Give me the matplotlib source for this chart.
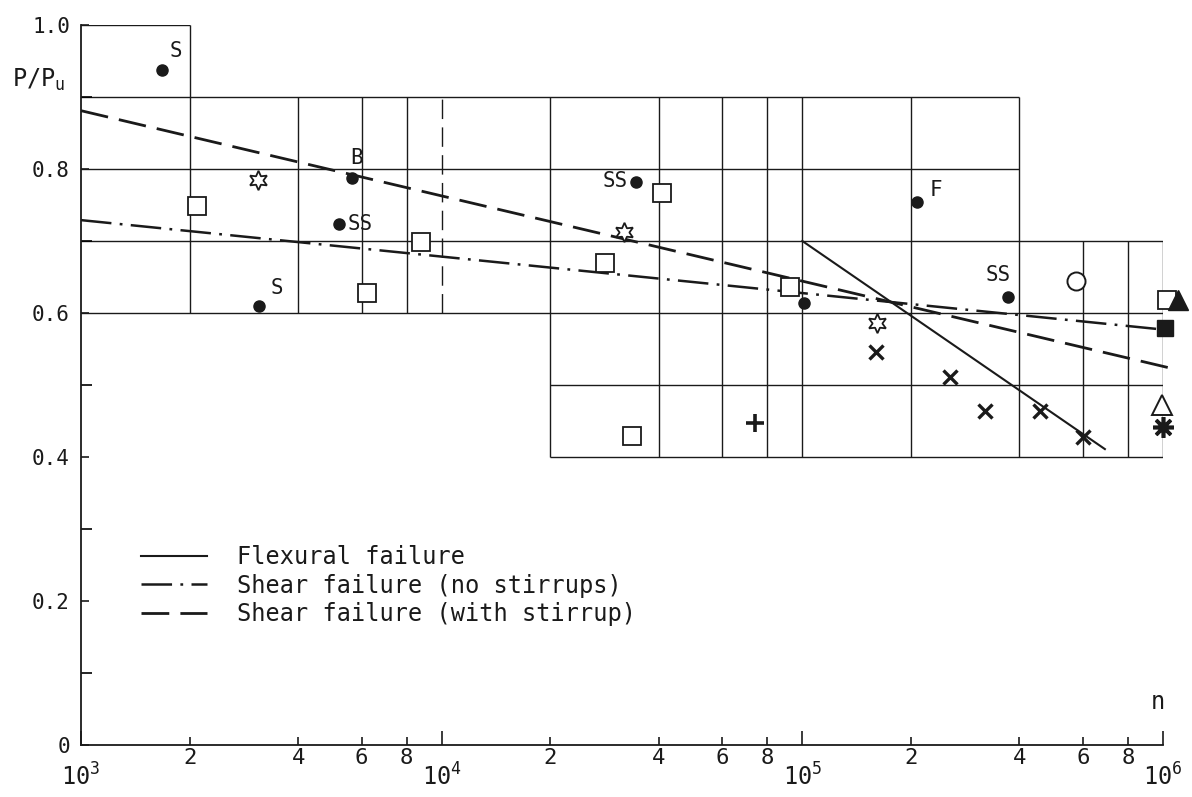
import matplotlib
matplotlib.use("Agg")
import matplotlib.pyplot as plt
from matplotlib.ticker import FixedLocator, NullFormatter, FixedFormatter

FONT = 'DejaVu Sans Mono'
plt.rcParams['font.family'] = [FONT, 'DejaVu Sans']
plt.rcParams['mathtext.fontset'] = 'custom'
plt.rcParams['mathtext.rm'] = FONT
plt.rcParams['lines.scale_dashes'] = False

# ---------------- data ----------------
# filled circles with failure-type labels
circle_n = [1677, 5641, 5192, 3115, 34580, 101000, 208000, 372000]
circle_p = [0.937, 0.787, 0.724, 0.610, 0.782, 0.614, 0.754, 0.622]
circle_lbl = ['S', 'B', 'SS', 'S', 'SS', '', 'F', 'SS']

square_n = [2097, 6209, 8766, 28370, 40830, 92400, 33710, 1026000]
square_p = [0.749, 0.628, 0.699, 0.669, 0.767, 0.636, 0.429, 0.618]

hex_n = [3095, 32030, 161000]
hex_p = [0.785, 0.7125, 0.586]

cross_n = [160000, 257000, 321000, 456000, 600000]
cross_p = [0.546, 0.511, 0.464, 0.464, 0.428]

plus_n = [73900]
plus_p = [0.447]

ocircle_n = [574000]
ocircle_p = [0.644]

fsquare_n = [1013000]
fsquare_p = [0.579]

ftri_n = [1100000]
ftri_p = [0.618]

otri_n = [993000]
otri_p = [0.472]

ast_n = [1000000]
ast_p = [0.442]

# fitted lines
flex_n = [1.0e5, 6.9e5]
flex_p = [0.700, 0.411]
shear_no_n = [1e3, 1e6]
shear_no_p = [0.729, 0.577]
shear_st_n = [1e3, 1.1e6]
shear_st_p = [0.881, 0.521]

legend_labels = ['Flexural failure', 'Shear failure (no stirrups)',
                 'Shear failure (with stirrup)']

# box structure of the diagram
h_segments = [(1.0, 1e3, 2e3), (0.9, 1e3, 4e5), (0.8, 1e3, 4e5),
              (0.7, 1e3, 1e6), (0.6, 1e3, 1e6), (0.5, 2e4, 1e6), (0.4, 2e4, 1e6)]
v_segments = [(2e3, 0.6, 1.0), (4e3, 0.6, 0.9), (6e3, 0.6, 0.9), (8e3, 0.6, 0.9),
              (2e4, 0.4, 0.9), (4e4, 0.4, 0.9), (6e4, 0.4, 0.9), (8e4, 0.4, 0.9),
              (1e5, 0.4, 0.9), (2e5, 0.4, 0.9), (4e5, 0.4, 0.9),
              (6e5, 0.4, 0.7), (8e5, 0.4, 0.7), (1e6, 0.4, 0.7)]
v_broken = [(1e4, 0.6, 0.9)]

x_major = [1e3, 1e4, 1e5, 1e6]
x_major_lbl = ['$10^3$', '$10^4$', '$10^5$', '$10^6$']
x_minor = [m * d for d in (1e3, 1e4, 1e5) for m in (2, 4, 6, 8)]
x_minor_lbl = ['2', '4', '6', '8'] * 3
y_major = [0, 0.2, 0.4, 0.6, 0.8, 1.0]
y_major_lbl = ['0', '0.2', '0.4', '0.6', '0.8', '1.0']
y_minor = [0.1, 0.3, 0.5, 0.7, 0.9]

# label offsets (points) and alignment for circle labels
lbl_off = [(10, 14), (3, 15), (6, 0), (13, 13), (-6, 1), (0, 0), (9, 9), (-7, 16)]
lbl_ha = ['center', 'center', 'left', 'center', 'right', 'center', 'left', 'center']

# ---------------- figure ----------------
K = '#1a1a1a'
fig = plt.figure(figsize=(11.92, 7.97), dpi=100)
ax = fig.add_axes([81 / 1192, 52 / 797, 1082 / 1192, 720 / 797])
ax.set_xscale('log')
ax.set_xlim(1e3, 1e6)
ax.set_ylim(0, 1.0)

for y, a, b in h_segments:
    ax.hlines(y, a, b, color=K, lw=1.0, zorder=1)
for x, a, b in v_segments:
    ax.vlines(x, a, b, color=K, lw=1.0, zorder=1)
for x, a, b in v_broken:
    ax.vlines(x, a, b, color=K, lw=1.0, zorder=1, linestyles=(0, (14, 6)))

l1, = ax.plot(flex_n, flex_p, color=K, lw=1.5, zorder=2)
l2, = ax.plot(shear_no_n, shear_no_p, color=K, lw=1.8, zorder=2,
              dashes=(22, 6, 2, 6))
l3, = ax.plot(shear_st_n, shear_st_p, color=K, lw=2.0, zorder=2,
              dashes=(20, 8), clip_on=False)

ax.plot(circle_n, circle_p, 'o', color=K, ms=8, zorder=4)
for n, p, t, off, ha in zip(circle_n, circle_p, circle_lbl, lbl_off, lbl_ha):
    if t:
        ax.annotate(t, (n, p), xytext=off, textcoords='offset points',
                    ha=ha, va='center', fontsize=15, color=K)

ax.plot(square_n, square_p, 's', mfc='white', mec=K, mew=1.3, ms=13, zorder=4,
        clip_on=False)
ax.plot(hex_n, hex_p, marker=(6, 1, 0), ls='none', mfc='white', mec=K, mew=1.3,
        ms=14, zorder=4)
ax.plot(cross_n, cross_p, 'x', color=K, mew=2.4, ms=10, zorder=4)
ax.plot(plus_n, plus_p, '+', color=K, mew=2.6, ms=13, zorder=4)
ax.plot(ocircle_n, ocircle_p, 'o', mfc='white', mec=K, mew=1.4, ms=13, zorder=4)
ax.plot(fsquare_n, fsquare_p, 's', color=K, ms=12, zorder=4, clip_on=False)
ax.plot(ftri_n, ftri_p, '^', color=K, ms=14, zorder=5, clip_on=False)
ax.plot(otri_n, otri_p, '^', mfc='white', mec=K, mew=1.4, ms=14, zorder=4,
        clip_on=False)
ax.plot(ast_n, ast_p, marker=(8, 2, 0), ls='none', color=K, mew=2.6, ms=15,
        zorder=4, clip_on=False)

# axes styling
for s in ('top', 'right'):
    ax.spines[s].set_visible(False)
for s in ('left', 'bottom'):
    ax.spines[s].set_color(K)
    ax.spines[s].set_linewidth(1.3)

ax.xaxis.set_major_locator(FixedLocator(x_major))
ax.xaxis.set_major_formatter(FixedFormatter(x_major_lbl))
ax.xaxis.set_minor_locator(FixedLocator(x_minor))
ax.xaxis.set_minor_formatter(FixedFormatter(x_minor_lbl))
ax.tick_params(axis='x', which='major', direction='in', length=10, width=1.2,
               pad=13, labelsize=17, colors=K)
ax.tick_params(axis='x', which='minor', direction='in', length=6, width=1.2,
               pad=2, labelsize=16, colors=K)

ax.yaxis.set_major_locator(FixedLocator(y_major))
ax.yaxis.set_major_formatter(FixedFormatter(y_major_lbl))
ax.yaxis.set_minor_locator(FixedLocator(y_minor))
ax.yaxis.set_minor_formatter(NullFormatter())
ax.tick_params(axis='y', which='major', direction='in', length=6, width=1.2,
               pad=8, labelsize=15, colors=K)
ax.tick_params(axis='y', which='minor', direction='in', length=8, width=1.2)

fig.text(12 / 1192, 1 - 80 / 797, r'$\mathregular{P/P_u}$', fontsize=17,
         color=K, ha='left', va='center')
ax.text(9.65e5, 0.06, 'n', fontsize=17, color=K, ha='center', va='center')

leg = ax.legend([l1, l2, l3], legend_labels, loc='upper left',
                bbox_to_anchor=(0.055, 0.278), frameon=False, fontsize=17,
                handlelength=2.8, handletextpad=1.3, labelspacing=0.2,
                borderpad=0, borderaxespad=0)
for t in leg.get_texts():
    t.set_color(K)

fig.savefig('out.png', dpi=100, facecolor='white')
